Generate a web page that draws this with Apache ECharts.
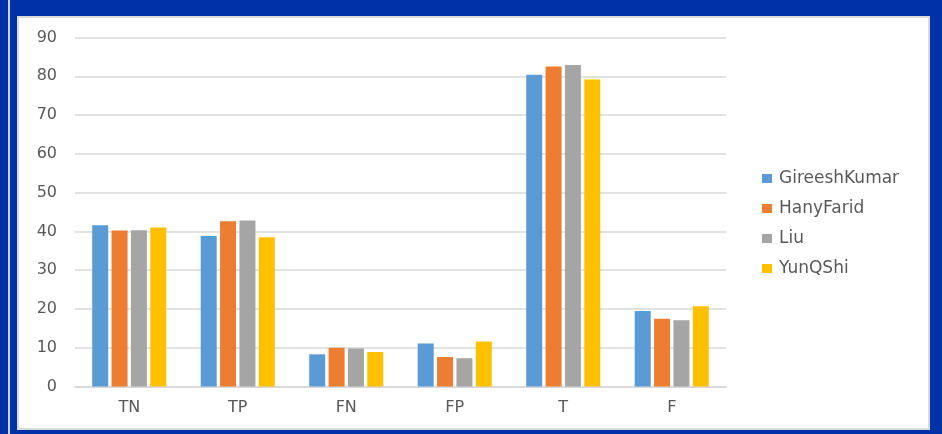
<!DOCTYPE html>
<html>
<head>
<meta charset="utf-8">
<script src="https://cdn.jsdelivr.net/npm/echarts@6/dist/echarts.min.js"></script>
<style>
  html, body { margin: 0; padding: 0; }
  body { width: 942px; height: 434px; background: #0031A7; position: relative; overflow: hidden; }
  #rule { position: absolute; left: 8px; top: 0; width: 2px; height: 434px; background: #C9D3EE; }
  #panel { position: absolute; left: 17px; top: 16px; width: 909px; height: 410px;
           background: #ffffff; border: 2px solid #D9D9D9; }
  #chart { position: absolute; left: 0; top: 0; width: 942px; height: 434px; }
</style>
</head>
<body>
<div id="rule"></div>
<div id="panel"></div>
<div id="chart"></div>
<script>
const categories = ['TN', 'TP', 'FN', 'FP', 'T', 'F'];
const seriesNames = ['GireeshKumar', 'HanyFarid', 'Liu', 'YunQShi'];
const gireeshKumar = [41.6, 38.8, 8.3, 11.1, 80.4, 19.5];
const hanyFarid    = [40.2, 42.6, 10.0, 7.6, 82.5, 17.5];
const liu          = [40.3, 42.8, 9.8, 7.3, 82.9, 17.1];
const yunQShi      = [41.0, 38.5, 8.9, 11.6, 79.2, 20.7];
const seriesValues = [gireeshKumar, hanyFarid, liu, yunQShi];
const colors = ['#5B9BD5', '#ED7D31', '#A5A5A5', '#FFC000'];

const font = 'DejaVu Sans';
const chart = echarts.init(document.getElementById('chart'), null, { renderer: 'canvas' });
chart.setOption({
  animation: false,
  backgroundColor: 'transparent',
  color: colors,
  grid: { left: 75, right: 216, top: 37.5, bottom: 47.5, containLabel: false },
  legend: {
    orient: 'vertical',
    left: 757,
    top: 165,
    itemWidth: 10,
    itemHeight: 9,
    itemGap: 13,
    icon: 'rect',
    textStyle: { fontFamily: font, fontSize: 17, color: '#595959', padding: [0, 0, 0, 2] },
    data: seriesNames
  },
  xAxis: {
    type: 'category',
    data: categories,
    axisLine: { lineStyle: { color: '#D9D9D9', width: 2 } },
    axisTick: { show: false },
    axisLabel: { fontFamily: font, fontSize: 16, color: '#595959', margin: 13 }
  },
  yAxis: {
    type: 'value',
    min: 0,
    max: 90,
    interval: 10,
    axisLine: { show: false },
    axisTick: { show: false },
    splitLine: { lineStyle: { color: '#D9D9D9', width: 1.5 } },
    axisLabel: { fontFamily: font, fontSize: 16, color: '#595959', margin: 18 }
  },
  series: seriesNames.map((name, i) => ({
    name: name,
    type: 'bar',
    data: seriesValues[i],
    barWidth: 16,
    barGap: '21%',
    itemStyle: { color: colors[i] }
  }))
});
</script>
</body>
</html>
